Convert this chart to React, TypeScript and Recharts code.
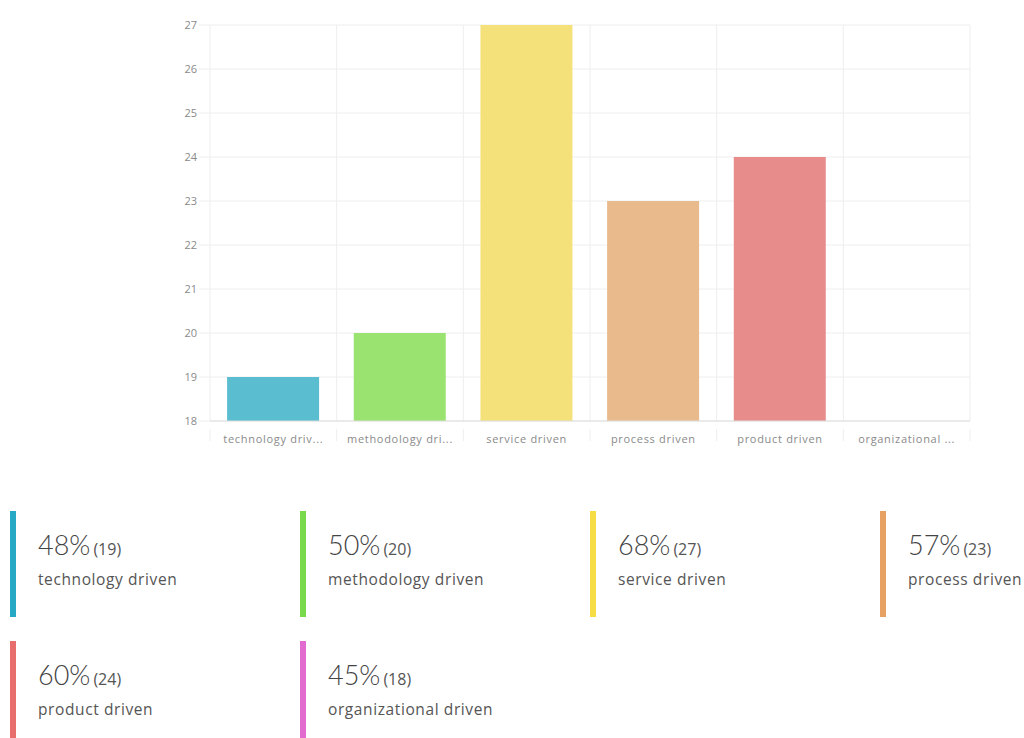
import { BarChart, Bar, XAxis, YAxis, CartesianGrid, Cell } from "recharts";

const CATEGORIES = [
  "technology driven",
  "methodology driven",
  "service driven",
  "process driven",
  "product driven",
  "organizational driven",
];
const COUNTS = [19, 20, 27, 23, 24, 18];
const PERCENTS = [48, 50, 68, 57, 60, 45];
const Y_TICKS = [18, 19, 20, 21, 22, 23, 24, 25, 26, 27];

// bars are drawn a bit softer than the legend swatches
const BAR_COLORS = ["#5bbdd0", "#9ae370", "#f5e17a", "#e9bb8c", "#e88b8b", "#e58fd8"];
const LEGEND_COLORS = ["#27a9c6", "#77d94b", "#f6dc45", "#e7a163", "#e86e6e", "#e26bd0"];

const FONT = "'Open Sans', Lato, sans-serif";
const BIG_FONT = "Lato, 'Open Sans', sans-serif";

const data = CATEGORIES.map((name, i) => ({ name, value: COUNTS[i] }));

function shorten(s: string) {
  return s.length > 15 ? s.slice(0, 15) + "..." : s;
}

function XTick(props: any) {
  const { x, y, payload, index, visibleTicksCount } = props;
  const band = 760 / 6;
  const left = x - band / 2;
  return (
    <g>
      <line x1={left} x2={left} y1={y} y2={y + 12} stroke="#eeeeee" />
      {index === (visibleTicksCount ?? 6) - 1 && (
        <line x1={left + band} x2={left + band} y1={y} y2={y + 12} stroke="#eeeeee" />
      )}
      <text
        x={x}
        y={y + 14}
        textAnchor="middle"
        fontSize={11}
        letterSpacing={0.7}
        fill="#8a8a8a"
        fontFamily={FONT}
      >
        {shorten(payload.value)}
      </text>
    </g>
  );
}

// vertical grid lines sit on the category boundaries, not the centres
const boundaryLines = ({ offset }: any) =>
  CATEGORIES.map((_, i) => offset.left + (i * offset.width) / CATEGORIES.length).concat(
    offset.left + offset.width
  );

export default function App() {
  return (
    <div style={{ position: "absolute", left: 0, top: 0, width: 1024, height: 738, overflow: "hidden", background: "#fff", fontFamily: FONT }}>
      <BarChart
        width={1024}
        height={451}
        data={data}
        margin={{ top: 25, right: 54, bottom: 0, left: 0 }}
        barCategoryGap="13.5%"
      >
        <CartesianGrid stroke="#eeeeee" verticalCoordinatesGenerator={boundaryLines} />
        <XAxis
          dataKey="name"
          interval={0}
          height={30}
          axisLine={{ stroke: "#dddddd" }}
          tickLine={false}
          tick={<XTick />}
        />
        <YAxis
          type="number"
          domain={[18, 27]}
          ticks={Y_TICKS}
          width={210}
          allowDataOverflow
          axisLine={false}
          tickLine={{ stroke: "#eeeeee" }}
          tickSize={11}
          tickMargin={2}
          tick={{ fontSize: 11, fill: "#8a8a8a", fontFamily: FONT }}
        />
        <Bar dataKey="value" isAnimationActive={false}>
          {data.map((d, i) => (
            <Cell key={d.name} fill={BAR_COLORS[i]} />
          ))}
        </Bar>
      </BarChart>

      {CATEGORIES.map((name, i) => {
        const col = i % 4;
        const row = Math.floor(i / 4);
        const left = 10 + col * 290;
        const top = 511 + row * 130;
        return (
          <div key={name} style={{ position: "absolute", left, top, width: 290, height: 106 }}>
            <div style={{ position: "absolute", left: 0, top: 0, width: 6, height: 106, background: LEGEND_COLORS[i] }} />
            <div style={{ position: "absolute", left: 28, top: 17, whiteSpace: "nowrap", color: "#444" }}>
              <span style={{ fontSize: 27, fontWeight: 300, fontFamily: BIG_FONT }}>{PERCENTS[i]}%</span>
              <span style={{ fontSize: 16, marginLeft: 3, color: "#555" }}>({COUNTS[i]})</span>
            </div>
            <div
              style={{
                position: "absolute",
                left: 28,
                top: 57,
                fontSize: 15.5,
                letterSpacing: 0.6,
                color: "#555",
                whiteSpace: "nowrap",
              }}
            >
              {name}
            </div>
          </div>
        );
      })}
    </div>
  );
}
